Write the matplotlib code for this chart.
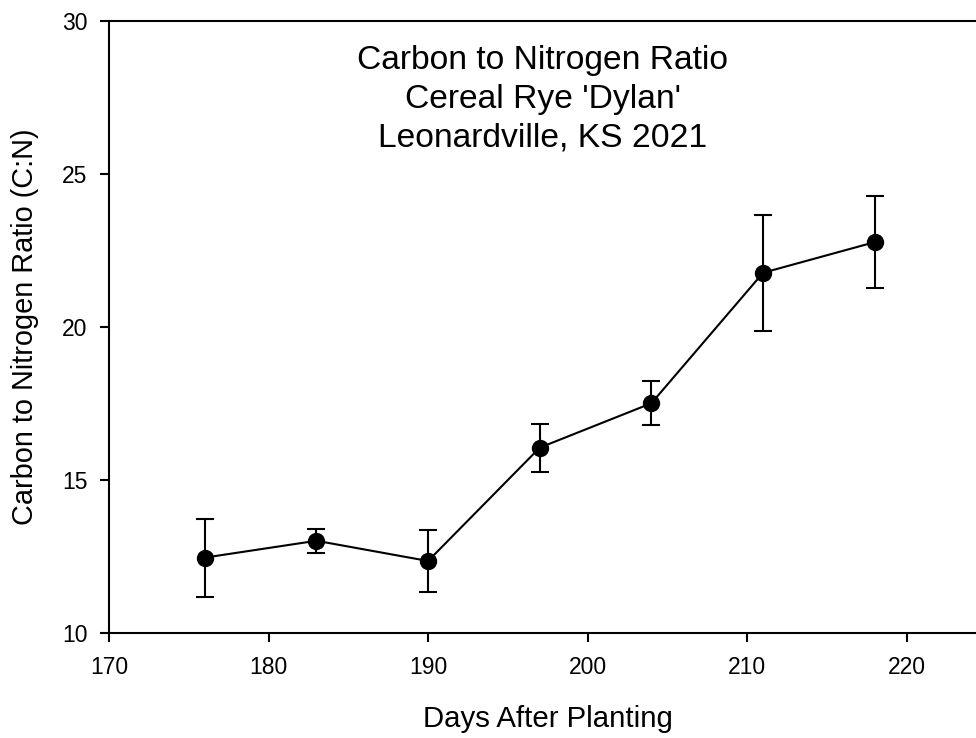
import numpy as np
import matplotlib
matplotlib.use('Agg')
import matplotlib.pyplot as plt

# C:N ratio of cereal rye
days = [176, 183, 190, 197, 204, 211, 218]
cn_ratio = [12.47, 13.02, 12.36, 16.06, 17.51, 21.77, 22.77]
cn_err = [1.27, 0.40, 1.00, 0.78, 0.72, 1.90, 1.50]

title_lines = ["Carbon to Nitrogen Ratio", "Cereal Rye 'Dylan'", "Leonardville, KS 2021"]

plt.rcParams['font.family'] = ['Liberation Sans', 'DejaVu Sans']

fig = plt.figure(figsize=(9.76, 7.38), dpi=100)
ax = fig.add_axes([0.1117, 0.1419, 0.899, 0.8301])

ax.errorbar(days, cn_ratio, yerr=cn_err, color='black', linewidth=1.5,
            marker='o', markersize=11.5, elinewidth=1.5, capsize=6.5, capthick=1.5)

ax.set_xlim(170, 225)
ax.set_ylim(10, 30)
ax.set_xticks([170, 180, 190, 200, 210, 220])
ax.set_yticks([10, 15, 20, 25, 30])

for s in ax.spines.values():
    s.set_linewidth(1.5)
ax.tick_params(direction='out', length=6.5, width=1.5, labelsize=16.5)
ax.tick_params(axis='x', pad=10)
ax.tick_params(axis='y', pad=9)

ax.set_xlabel("Days After Planting", fontsize=21.2, labelpad=18.5)
ax.set_ylabel("Carbon to Nitrogen Ratio (C:N)", fontsize=20.8, labelpad=16.5)

# three-line title inside the plot
ys = [28.42, 27.15, 25.89]
for txt, y in zip(title_lines, ys):
    ax.text(197.2, y, txt, ha='center', va='baseline', fontsize=24.2)

fig.savefig('out.png', dpi=100)
